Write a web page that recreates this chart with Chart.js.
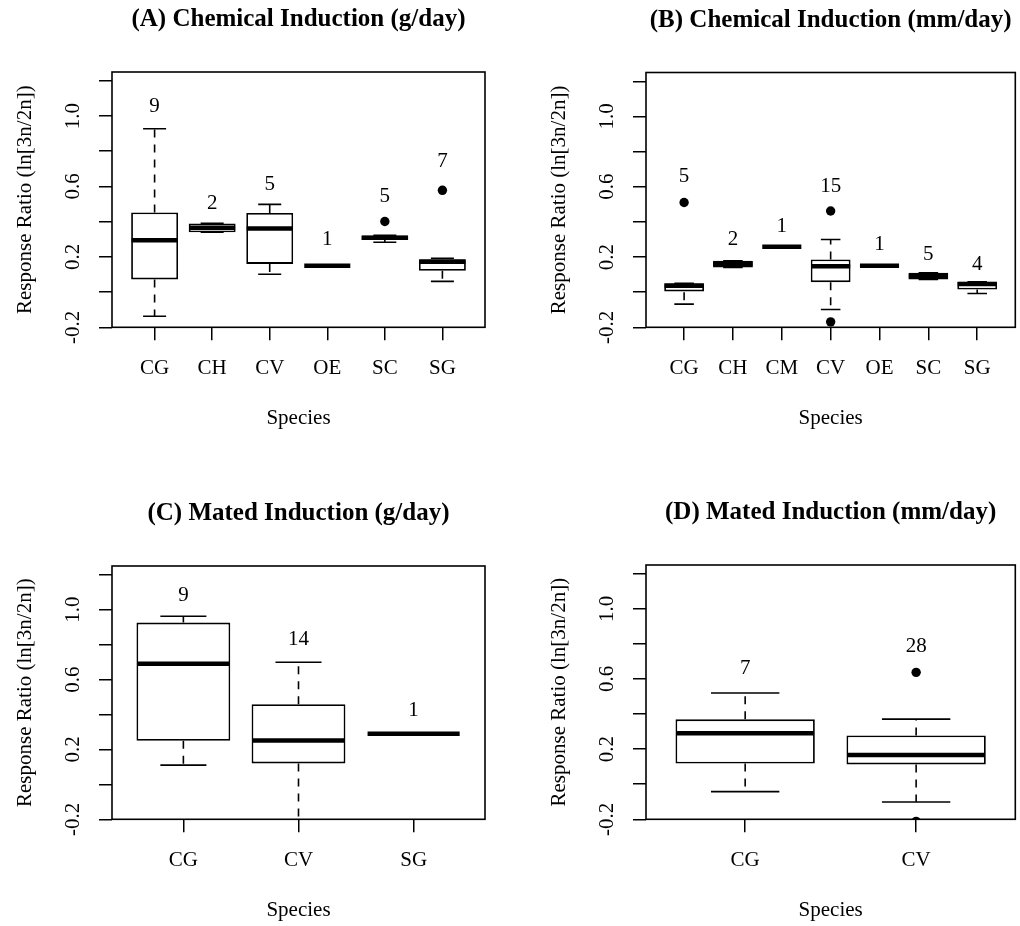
<!DOCTYPE html>
<html>
<head>
<meta charset="utf-8">
<script src="https://cdn.jsdelivr.net/npm/chart.js@4.4.1/dist/chart.umd.min.js"></script>
<style>
  body { margin: 0; background: #fff; }
  .panel { position: absolute; width: 510px; height: 463px; }
</style>
</head>
<body>
<div class="panel" style="left:0;top:0"><canvas id="chartA" width="510" height="463"></canvas></div>
<div class="panel" style="left:510px;top:0"><canvas id="chartB" width="510" height="463"></canvas></div>
<div class="panel" style="left:0;top:463px"><canvas id="chartC" width="510" height="463"></canvas></div>
<div class="panel" style="left:510px;top:463px"><canvas id="chartD" width="510" height="463"></canvas></div>
<script>
var yTicks = [-0.2, 0, 0.2, 0.4, 0.6, 0.8, 1.0, 1.2]
var yTickLabels = [-0.2, 0.2, 0.6, 1.0]

// (A) chemical induction, g/day
var speciesA = ["CG", "CH", "CV", "OE", "SC", "SG"]
var countsA = [9, 2, 5, 1, 5, 7]
var lowA = [-0.137, 0.34, 0.101, 0.15, 0.283, 0.061]
var q1A = [0.072, 0.34, 0.16, 0.15, 0.296, 0.121]
var medA = [0.295, 0.365, 0.361, 0.15, 0.308, 0.173]
var q3A = [0.452, 0.39, 0.449, 0.15, 0.322, 0.186]
var highA = [0.928, 0.39, 0.498, 0.15, 0.322, 0.192]
var outA = [[], [], [], [], [0.401], [0.578]]
var countAtA = [1.052, 0.501, 0.61, 0.296, 0.543, 0.739]

// (B) chemical induction, mm/day
var speciesB = ["CG", "CH", "CM", "CV", "OE", "SC", "SG"]
var countsB = [5, 2, 1, 15, 1, 5, 4]
var lowB = [-0.068, 0.141, 0.259, -0.099, 0.15, 0.072, -0.008]
var q1B = [0.0, 0.141, 0.259, 0.057, 0.15, 0.072, 0.015]
var medB = [0.036, 0.16, 0.259, 0.148, 0.15, 0.091, 0.046]
var q3B = [0.05, 0.179, 0.259, 0.186, 0.15, 0.11, 0.059]
var highB = [0.05, 0.179, 0.259, 0.3, 0.15, 0.11, 0.059]
var outB = [[0.51], [], [], [0.462, -0.169], [], [], []]
var countAtB = [0.658, 0.3, 0.376, 0.6, 0.272, 0.215, 0.158]

// (C) mated induction, g/day
var speciesC = ["CG", "CV", "SG"]
var countsC = [9, 14, 1]
var lowC = [0.11, -0.26, 0.29]
var q1C = [0.25, 0.12, 0.29]
var medC = [0.691, 0.251, 0.29]
var q3C = [0.926, 0.459, 0.29]
var highC = [0.962, 0.699, 0.29]
var outC = [[], [], []]
var countAtC = [1.082, 0.83, 0.425]

// (D) mated induction, mm/day
var speciesD = ["CG", "CV"]
var countsD = [7, 28]
var lowD = [-0.042, -0.101]
var q1D = [0.118, 0.113]
var medD = [0.291, 0.166]
var q3D = [0.37, 0.278]
var highD = [0.52, 0.371]
var outD = [[], [0.638, -0.212]]
var countAtD = [0.659, 0.787]

var serif = '"Liberation Serif", "Times New Roman", serif'

function line(ctx, x1, y1, x2, y2) {
  ctx.beginPath()
  ctx.moveTo(x1, y1)
  ctx.lineTo(x2, y2)
  ctx.stroke()
}

// whiskers, staples, medians and all the R-style text
function boxplotPlugin(d, title) {
  return {
    id: "boxplot",
    afterDatasetsDraw: function(chart) {
      var ctx = chart.ctx
      var area = chart.chartArea
      var x = chart.scales.x
      var y = chart.scales.y
      var half = (x.getPixelForValue(2) - x.getPixelForValue(1)) * 0.4

      ctx.save()
      ctx.beginPath()
      ctx.rect(area.left, area.top, area.right - area.left, area.bottom - area.top)
      ctx.clip()
      ctx.strokeStyle = "#000"
      for (var i = 0; i < d.species.length; i++) {
        var cx = x.getPixelForValue(i + 1)
        ctx.lineWidth = 1.6
        ctx.lineCap = "butt"
        ctx.setLineDash([8, 7])
        line(ctx, cx, y.getPixelForValue(d.q3[i]), cx, y.getPixelForValue(d.high[i]))
        line(ctx, cx, y.getPixelForValue(d.q1[i]), cx, y.getPixelForValue(d.low[i]))
        ctx.setLineDash([])
        line(ctx, cx - half / 2, y.getPixelForValue(d.high[i]), cx + half / 2, y.getPixelForValue(d.high[i]))
        line(ctx, cx - half / 2, y.getPixelForValue(d.low[i]), cx + half / 2, y.getPixelForValue(d.low[i]))
        ctx.lineWidth = 4.5
        line(ctx, cx - half, y.getPixelForValue(d.med[i]), cx + half, y.getPixelForValue(d.med[i]))
      }
      ctx.restore()
    },
    afterDraw: function(chart) {
      var ctx = chart.ctx
      var area = chart.chartArea
      var x = chart.scales.x
      var y = chart.scales.y
      var midX = (area.left + area.right) / 2
      var midY = (area.top + area.bottom) / 2

      ctx.save()
      ctx.strokeStyle = "#000"
      ctx.lineWidth = 1.6
      ctx.strokeRect(area.left, area.top, area.right - area.left, area.bottom - area.top)

      ctx.fillStyle = "#000"
      ctx.textAlign = "center"
      ctx.textBaseline = "middle"
      ctx.font = "bold 25px " + serif
      ctx.fillText(title, midX, area.top - 52)

      ctx.font = "21px " + serif
      for (var i = 0; i < d.species.length; i++) {
        var cx = x.getPixelForValue(i + 1)
        ctx.fillText(String(d.counts[i]), cx, y.getPixelForValue(d.countAt[i]))
        ctx.fillText(d.species[i], cx, area.bottom + 41)
      }
      ctx.fillText("Species", midX, area.bottom + 91)

      yTickLabels.forEach(function(v) {
        ctx.save()
        ctx.translate(area.left - 39, y.getPixelForValue(v))
        ctx.rotate(-Math.PI / 2)
        ctx.fillText(v.toFixed(1), 0, 0)
        ctx.restore()
      })
      ctx.save()
      ctx.translate(area.left - 87, midY)
      ctx.rotate(-Math.PI / 2)
      ctx.fillText("Response Ratio (ln[3n/2n])", 0, 0)
      ctx.restore()
      ctx.restore()
    }
  }
}

function makePanel(id, title, d, pad) {
  var n = d.species.length
  var ext = 0.04 * n
  var boxes = d.species.map(function(s, i) {
    return { x: i + 1, y: [d.q1[i], d.q3[i]] }
  })
  var points = []
  d.out.forEach(function(list, i) {
    list.forEach(function(v) { points.push({ x: i + 1, y: v }) })
  })
  var axisGrid = {
    display: true,
    drawOnChartArea: false,
    drawTicks: true,
    tickLength: 13,
    offset: false,
    color: "#000",
    lineWidth: 1.5
  }
  new Chart(document.getElementById(id), {
    type: "bar",
    data: {
      datasets: [
        {
          type: "bar",
          data: boxes,
          backgroundColor: "#fff",
          borderColor: "#000",
          borderWidth: 1.8,
          borderSkipped: false,
          barPercentage: 0.815,
          categoryPercentage: 1
        },
        {
          type: "scatter",
          data: points,
          pointRadius: 4.7,
          pointBackgroundColor: "#000",
          pointBorderWidth: 0
        }
      ]
    },
    options: {
      responsive: false,
      animation: false,
      layout: { padding: pad },
      plugins: {
        legend: { display: false },
        title: { display: false },
        tooltip: { enabled: false }
      },
      scales: {
        x: {
          type: "linear",
          offset: false,
          min: 0.5 - ext,
          max: n + 0.5 + ext,
          afterBuildTicks: function(s) {
            s.ticks = d.species.map(function(sp, i) { return { value: i + 1 } })
          },
          ticks: { display: false },
          grid: axisGrid,
          border: { display: false }
        },
        y: {
          type: "linear",
          min: -0.2,
          max: 1.25,
          afterBuildTicks: function(s) {
            s.ticks = yTicks.map(function(v) { return { value: v } })
          },
          ticks: { display: false },
          grid: axisGrid,
          border: { display: false }
        }
      }
    },
    plugins: [boxplotPlugin(d, title)]
  })
}

makePanel("chartA", "(A) Chemical Induction (g/day)",
  { species: speciesA, counts: countsA, low: lowA, q1: q1A, med: medA, q3: q3A, high: highA, out: outA, countAt: countAtA },
  { left: 99, top: 72, right: 25, bottom: 122.7 })
makePanel("chartB", "(B) Chemical Induction (mm/day)",
  { species: speciesB, counts: countsB, low: lowB, q1: q1B, med: medB, q3: q3B, high: highB, out: outB, countAt: countAtB },
  { left: 123, top: 72.5, right: 2, bottom: 122.7 })
makePanel("chartC", "(C) Mated Induction (g/day)",
  { species: speciesC, counts: countsC, low: lowC, q1: q1C, med: medC, q3: q3C, high: highC, out: outC, countAt: countAtC },
  { left: 99, top: 103, right: 25, bottom: 93.7 })
makePanel("chartD", "(D) Mated Induction (mm/day)",
  { species: speciesD, counts: countsD, low: lowD, q1: q1D, med: medD, q3: q3D, high: highD, out: outD, countAt: countAtD },
  { left: 123, top: 102, right: 2, bottom: 93.7 })
</script>
</body>
</html>
